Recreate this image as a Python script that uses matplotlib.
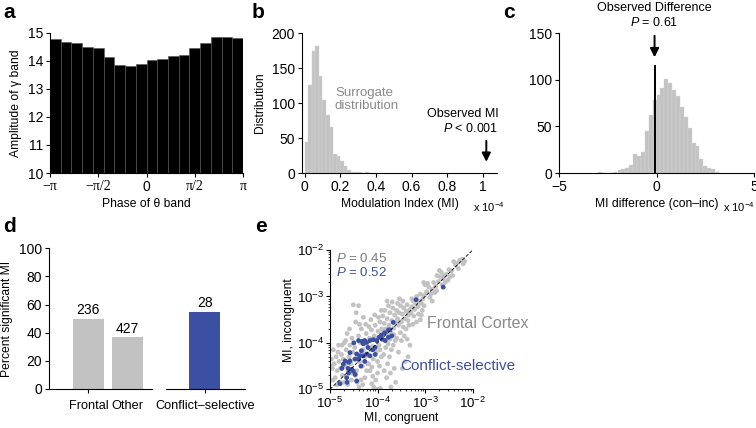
import matplotlib
matplotlib.use("Agg")
import matplotlib.pyplot as plt
import numpy as np
from matplotlib.ticker import LogLocator, NullFormatter

plt.rcParams["font.family"] = ["Liberation Sans", "DejaVu Sans"]
plt.rcParams["font.size"] = 8.5
plt.rcParams["xtick.labelsize"] = 10
plt.rcParams["ytick.labelsize"] = 10
plt.rcParams["axes.labelsize"] = 8.7
plt.rcParams["mathtext.fontset"] = "custom"
plt.rcParams["mathtext.rm"] = "Liberation Sans"
plt.rcParams["mathtext.it"] = "Liberation Sans:italic"
plt.rcParams["mathtext.bf"] = "Liberation Sans:bold"
plt.rcParams["axes.linewidth"] = 0.8

GRAY = "#c2c2c2"
TEXT_GRAY = "#8a8a8a"
BLUE = "#3b4fa3"

# ---- panel a: gamma amplitude per theta phase bin (18 bins)
phase_amp = [14.78, 14.67, 14.64, 14.49, 14.47, 14.13, 13.85, 13.82, 13.90,
             14.03, 14.08, 14.18, 14.22, 14.47, 14.66, 14.84, 14.87, 14.81]

# ---- panel b: surrogate MI distribution (bins of 0.02 x 1e-4)
surr_counts = [44, 126, 175, 181, 138, 105, 83, 66, 27, 25, 17, 10, 5, 2, 1, 1, 0, 1]
surr_bin = 0.02
observed_mi = 1.02

# ---- panel c: MI difference distribution (bins of 0.2 x 1e-4)
diff_left = -3.0
diff_counts = [1, 0, 0, 0, 1, 3, 4, 5, 9, 20, 18, 23, 45, 62, 78, 84, 91,
               101, 96, 89, 82, 71, 60, 48, 32, 29, 15, 7, 5, 4, 1]
diff_bin = 0.2
observed_diff = -0.1

# ---- panel d
d_groups = ["Frontal", "Other"]
d_pct = [50, 37]
d_n = [236, 427]
cs_label = "Conflict\u2013selective"
cs_pct = 55
cs_n = 28

# ---- panel e: log10 MI (congruent, incongruent) per unit
gray_pts = [
    (-2.22, -2.20), (-2.17, -2.24), (-2.27, -2.22), (-2.20, -2.30), (-2.32, -2.28),
    (-2.36, -2.33), (-2.30, -2.40), (-2.40, -2.25),
    (-2.45, -2.45), (-2.50, -2.42), (-2.55, -2.52), (-2.48, -2.58), (-2.60, -2.55),
    (-2.62, -2.62), (-2.66, -2.48), (-2.70, -2.44), (-2.68, -2.58), (-2.72, -2.68),
    (-2.58, -2.70), (-2.52, -2.65), (-2.42, -2.55), (-2.75, -2.55), (-2.64, -2.75),
    (-2.78, -2.78), (-2.82, -2.70), (-2.85, -2.85), (-2.88, -2.95), (-2.92, -2.80),
    (-2.95, -2.72), (-3.00, -2.75), (-3.03, -2.70), (-2.97, -2.90), (-2.80, -2.92),
    (-2.90, -3.02), (-2.85, -3.10), (-3.02, -2.98), (-2.76, -2.88),
    (-3.05, -3.05), (-3.08, -3.15), (-3.10, -2.95), (-3.12, -3.10), (-3.15, -3.22),
    (-3.18, -3.00), (-3.20, -3.15), (-3.22, -3.28), (-3.25, -3.10), (-3.28, -3.22),
    (-3.06, -3.30), (-3.14, -3.38), (-3.24, -3.42), (-3.30, -3.35), (-3.10, -3.50),
    (-3.02, -3.20), (-3.18, -3.55), (-3.28, -3.05), (-3.26, -3.60), (-3.08, -3.40),
    (-3.32, -3.28), (-3.35, -3.40), (-3.38, -3.18), (-3.40, -3.32), (-3.42, -3.48),
    (-3.45, -3.25), (-3.48, -3.38), (-3.50, -3.55), (-3.52, -3.20), (-3.55, -3.35),
    (-3.58, -3.48), (-3.34, -3.62), (-3.40, -3.70), (-3.46, -3.66), (-3.52, -3.78),
    (-3.56, -3.62), (-3.58, -3.15), (-3.36, -3.52), (-3.44, -3.85), (-3.50, -3.95),
    (-3.38, -3.92), (-3.32, -4.05), (-3.54, -3.05), (-3.47, -3.10), (-3.60, -3.30),
    (-3.42, -4.40), (-3.36, -4.30), (-3.56, -4.20), (-3.48, -4.55), (-3.60, -3.90),
    (-3.62, -3.55), (-3.64, -3.40), (-3.66, -3.68), (-3.68, -3.25), (-3.70, -3.52),
    (-3.72, -3.78), (-3.74, -3.35), (-3.76, -3.62), (-3.78, -3.85), (-3.80, -3.48),
    (-3.82, -3.70), (-3.84, -3.95), (-3.86, -3.58), (-3.88, -3.80), (-3.63, -3.95),
    (-3.67, -4.05), (-3.71, -4.15), (-3.75, -4.30), (-3.79, -4.45), (-3.83, -4.10),
    (-3.87, -4.25), (-3.69, -3.12), (-3.77, -3.20), (-3.85, -3.30), (-3.89, -3.42),
    (-3.65, -4.55), (-3.73, -4.65), (-3.81, -4.75), (-3.72, -4.95), (-3.62, -4.85),
    (-3.86, -4.60), (-3.78, -4.02), (-3.66, -3.82), (-3.80, -3.10), (-3.74, -3.92),
    (-3.91, -3.70), (-3.93, -3.88), (-3.95, -3.55), (-3.97, -4.05), (-3.99, -3.75),
    (-4.01, -3.95), (-4.03, -4.20), (-4.05, -3.62), (-4.07, -3.85), (-4.09, -4.35),
    (-4.11, -4.08), (-4.13, -3.72), (-4.15, -4.15), (-4.17, -3.90), (-4.19, -4.45),
    (-3.92, -4.30), (-3.96, -4.50), (-4.00, -4.65), (-4.04, -4.80), (-4.08, -4.95),
    (-4.12, -4.88), (-4.16, -4.60), (-3.94, -4.98), (-4.02, -5.00), (-4.10, -4.72),
    (-3.98, -3.45), (-4.06, -3.40), (-4.14, -3.50), (-4.18, -3.65), (-3.92, -3.30),
    (-4.20, -4.25), (-4.00, -4.40), (-4.12, -4.52), (-4.06, -4.10), (-3.95, -4.15),
    (-4.22, -4.05), (-4.24, -3.80), (-4.26, -4.30), (-4.28, -3.95), (-4.30, -4.15),
    (-4.32, -4.50), (-4.34, -3.70), (-4.36, -4.00), (-4.38, -4.40), (-4.40, -3.85),
    (-4.42, -4.25), (-4.44, -4.60), (-4.46, -3.55), (-4.48, -4.10), (-4.23, -4.60),
    (-4.27, -4.75), (-4.31, -4.90), (-4.35, -4.80), (-4.39, -4.95), (-4.43, -4.85),
    (-4.47, -4.70), (-4.51, -3.18), (-4.40, -3.20), (-4.45, -3.35), (-4.30, -3.45),
    (-4.25, -3.60), (-4.38, -3.60), (-4.49, -4.35), (-4.33, -4.20), (-4.21, -4.45),
    (-4.52, -4.20), (-4.54, -3.90), (-4.56, -4.45), (-4.58, -4.05), (-4.60, -4.30),
    (-4.62, -4.60), (-4.64, -3.80), (-4.66, -4.15), (-4.68, -4.50), (-4.70, -4.00),
    (-4.72, -4.35), (-4.74, -4.70), (-4.76, -4.25), (-4.78, -4.55), (-4.55, -4.80),
    (-4.63, -4.90), (-4.71, -4.85), (-4.59, -3.70), (-4.67, -3.95), (-4.75, -4.05),
    (-4.53, -4.65), (-4.79, -4.85),
    (-4.81, -4.40), (-4.83, -4.20), (-4.85, -4.60), (-4.87, -4.30), (-4.89, -4.75),
    (-4.91, -4.45), (-4.93, -4.15), (-4.95, -4.55), (-4.97, -4.35), (-4.99, -4.50),
    (-4.86, -4.90), (-4.94, -4.80), (-4.82, -4.05),
]
blue_pts = [
    (-3.19, -3.07), (-2.62, -2.80), (-3.67, -3.56), (-3.74, -3.72), (-3.85, -3.78),
    (-3.92, -3.83), (-3.77, -3.88), (-4.02, -3.95), (-4.09, -3.93), (-4.16, -3.95),
    (-4.23, -3.99), (-4.27, -3.95), (-4.20, -4.10), (-4.34, -4.17), (-4.44, -4.24),
    (-4.37, -4.28), (-4.47, -4.35), (-4.58, -4.39), (-4.61, -4.42), (-4.68, -4.39),
    (-4.72, -4.46), (-4.54, -4.57), (-4.51, -4.61), (-4.61, -4.65), (-4.47, -4.68),
    (-4.65, -4.75), (-4.64, -4.85), (-4.79, -4.88), (-4.44, -4.82), (-4.58, -4.21),
    (-4.30, -4.28), (-4.23, -4.24), (-4.16, -4.28), (-4.40, -4.35), (-4.05, -4.10),
    (-3.97, -3.88), (-3.90, -3.92), (-3.84, -3.95), (-3.77, -3.72), (-4.50, -4.00),
    (-4.40, -3.95), (-4.33, -3.97), (-4.30, -4.02), (-4.10, -4.15), (-4.05, -4.25),
    (-4.62, -4.55), (-4.75, -4.55), (-4.35, -4.50), (-4.27, -4.40), (-3.70, -3.85),
]

W, H = 756, 428
fig = plt.figure(figsize=(W / 100, H / 100), dpi=100)


def px_axes(left, top, right, bottom):
    return fig.add_axes([left / W, 1 - bottom / H, (right - left) / W, (bottom - top) / H])


def clean(ax):
    ax.spines["top"].set_visible(False)
    ax.spines["right"].set_visible(False)
    ax.tick_params(direction="out", width=0.8, length=3, pad=2)


# panel a
ax = px_axes(50, 33, 243, 173)
clean(ax)
n = len(phase_amp)
edges = np.linspace(-np.pi, np.pi, n + 1)
ax.bar(edges[:-1], np.array(phase_amp) - 10, bottom=10, width=edges[1] - edges[0],
       align="edge", color="black", edgecolor="#555555", linewidth=0.4)
ax.set_xlim(-np.pi, np.pi)
ax.set_ylim(10, 15)
ax.set_xticks([-np.pi, -np.pi / 2, 0, np.pi / 2, np.pi])
ax.set_xticklabels(["\u2212\u03c0", "\u2212\u03c0/2", "0", "\u03c0/2", "\u03c0"])
for lbl in ax.get_xticklabels():
    if "\u03c0" in lbl.get_text():
        lbl.set_family("Liberation Serif")
ax.set_yticks([10, 11, 12, 13, 14, 15])
ax.set_xlabel("Phase of \u03b8 band", labelpad=3)
ax.set_ylabel("Amplitude of \u03b3 band", labelpad=4)

# panel b
ax = px_axes(302, 33, 497, 173)
clean(ax)
ax.bar(np.arange(len(surr_counts)) * surr_bin, surr_counts, width=surr_bin, align="edge",
       color=GRAY, edgecolor="#d6d6d6", linewidth=0.3)
ax.set_xlim(-0.015, 1.08)
ax.set_ylim(0, 200)
ax.set_xticks([0, 0.2, 0.4, 0.6, 0.8, 1])
ax.set_xticklabels(["0", "0.2", "0.4", "0.6", "0.8", "1"])
ax.set_yticks([0, 50, 100, 150, 200])
ax.set_xlabel("Modulation Index (MI)", labelpad=3)
ax.set_ylabel("Distribution", labelpad=4)
fig.text(473 / W, 1 - 207 / H, r"x 10$^{-4}$", ha="left", va="center", fontsize=8)
ax.text(0.17, 105, "Surrogate\ndistribution", color=TEXT_GRAY, fontsize=9.5, va="center",
        linespacing=1.05)
ax.annotate("", xy=(observed_mi, 12), xytext=(observed_mi, 50),
            arrowprops=dict(arrowstyle="-|>", color="black", lw=1.4, mutation_scale=13))
ax.text(1.09, 55, "Observed MI\n$P$ < 0.001", ha="right", va="bottom", fontsize=9,
        linespacing=1.2)

# panel c
ax = px_axes(559, 33, 754, 173)
clean(ax)
ax.bar(diff_left + np.arange(len(diff_counts)) * diff_bin, diff_counts, width=diff_bin,
       align="edge", color=GRAY, edgecolor="#d6d6d6", linewidth=0.3)
ax.plot([observed_diff, observed_diff], [0, 115], color="black", lw=1.4)
ax.annotate("", xy=(observed_diff, 121), xytext=(observed_diff, 150),
            arrowprops=dict(arrowstyle="-|>", color="black", lw=1.4, mutation_scale=13),
            annotation_clip=False)
ax.text(observed_diff, 154, "Observed Difference\n$P$ = 0.61", ha="center", va="bottom",
        fontsize=9, linespacing=1.2)
ax.set_xlim(-5, 5)
ax.set_ylim(0, 150)
ax.set_xticks([-5, 0, 5])
ax.set_yticks([0, 50, 100, 150])
ax.set_xlabel("MI difference (con\u2013inc)", labelpad=3)
fig.text(755 / W, 1 - 207 / H, r"x 10$^{-4}$", ha="right", va="center", fontsize=8)

# panel d
ax = px_axes(49, 248.3, 152, 389)
clean(ax)
ax.bar([0, 1], d_pct, width=0.8, color=GRAY)
for i in range(2):
    ax.text(i, d_pct[i] + 1, str(d_n[i]), ha="center", va="bottom", fontsize=10)
ax.set_xlim(-1.01, 1.63)
ax.set_ylim(0, 100)
ax.set_xticks([0, 1])
ax.set_xticklabels(d_groups, fontsize=9.2)
ax.tick_params(axis="x", pad=5)
ax.xaxis.get_major_ticks()[1].tick1line.set_visible(False)
ax.set_yticks([0, 20, 40, 60, 80, 100])
ax.set_ylabel("Percent significant MI", labelpad=4)

ax2 = px_axes(166, 248.3, 245, 389)
clean(ax2)
ax2.spines["left"].set_visible(False)
ax2.bar([0], [cs_pct], width=0.8, color=BLUE)
ax2.text(0, cs_pct + 1, str(cs_n), ha="center", va="bottom", fontsize=10)
ax2.set_xlim(-1.0, 1.03)
ax2.set_ylim(0, 100)
ax2.set_yticks([])
ax2.set_xticks([0])
ax2.set_xticklabels([cs_label], fontsize=9.2)
ax2.tick_params(axis="x", pad=5)

# panel e
gx, gy = zip(*gray_pts)
bx, by = zip(*blue_pts)
ax = px_axes(330, 250, 472.7, 389.3)
clean(ax)
ax.set_xscale("log")
ax.set_yscale("log")
ax.scatter(10 ** np.array(gx), 10 ** np.array(gy), s=12, color=GRAY,
           edgecolors="none", zorder=2)
ax.scatter(10 ** np.array(bx), 10 ** np.array(by), s=12, color=BLUE,
           edgecolors="none", zorder=3)
ax.plot([1e-5, 1e-2], [1e-5, 1e-2], color="black", lw=0.6, ls=(0, (4, 2)), zorder=4)
ax.set_xlim(1e-5, 1e-2)
ax.set_ylim(1e-5, 1e-2)
for axis in (ax.xaxis, ax.yaxis):
    axis.set_major_locator(LogLocator(base=10, numticks=10))
    axis.set_minor_locator(LogLocator(base=10, subs=np.arange(2, 10), numticks=100))
    axis.set_minor_formatter(NullFormatter())
ax.tick_params(which="major", labelsize=9.5, pad=1.5)
ax.tick_params(which="minor", length=1.5, width=0.5)
ax.set_xlabel("MI, congruent", labelpad=1)
ax.set_ylabel("MI, incongruent", labelpad=1)
ax.text(0.04, 0.985, "$P$ = 0.45", transform=ax.transAxes, color="#7a7a7a", va="top",
        fontsize=9.5)
ax.text(0.04, 0.885, "$P$ = 0.52", transform=ax.transAxes, color=BLUE, va="top",
        fontsize=9.5)
fig.text(427 / W, 1 - 323 / H, "Frontal Cortex", color=TEXT_GRAY, fontsize=11.5, va="center")
fig.text(400 / W, 1 - 366 / H, "Conflict-selective", color=BLUE, fontsize=11, va="center")

# panel letters
for lab, x, y in [("a", 3, 12), ("b", 252, 12), ("c", 503, 12), ("d", 3, 226), ("e", 255, 226)]:
    fig.text(x / W, 1 - y / H, lab, fontsize=15, fontweight="bold", va="center", ha="left")

fig.savefig("out.png", dpi=100)
